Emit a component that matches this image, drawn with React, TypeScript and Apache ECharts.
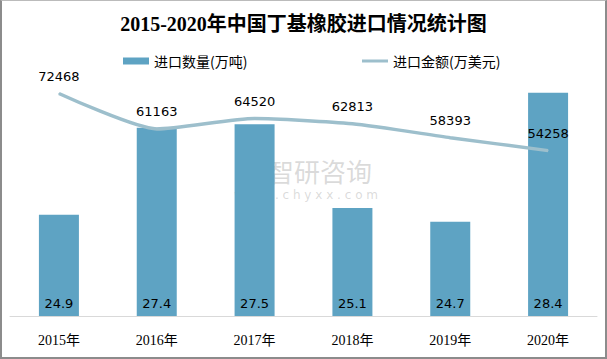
import React, { useEffect, useRef } from "react";
import * as echarts from "echarts";

const years = ["2015年", "2016年", "2017年", "2018年", "2019年", "2020年"];
const volume = [24.9, 27.4, 27.5, 25.1, 24.7, 28.4];
const amount = [72468, 61163, 64520, 62813, 58393, 54258];

export default function App() {
  const ref = useRef<HTMLDivElement>(null);
  useEffect(() => {
    document.body.style.margin = "0";
    const chart = echarts.init(ref.current!, null, { renderer: "svg" });
    const legendText = { fontSize: 14, color: "#000", fontFamily: "Noto Sans CJK SC" };
    chart.setOption({
      animation: false,
      backgroundColor: "#ffffff",
      title: {
        text: "2015-2020年中国丁基橡胶进口情况统计图",
        left: "center",
        top: 8,
        textStyle: {
          fontFamily: "Liberation Serif, Noto Sans CJK SC",
          fontWeight: "bold",
          fontSize: 20,
          color: "#000",
        },
      },
      legend: [
        {
          top: 48,
          left: 116,
          itemWidth: 26,
          itemHeight: 7,
          itemGap: 4,
          textStyle: legendText,
          data: [{ name: "进口数量(万吨)", icon: "rect" }],
        },
        {
          top: 48,
          left: 355,
          itemWidth: 26,
          itemHeight: 3,
          textStyle: legendText,
          data: [{ name: "进口金额(万美元)", icon: "rect", itemStyle: { color: "#9dbfcc" } }],
        },
      ],
      grid: { left: 8, right: 8, top: 36, bottom: 41, containLabel: false },
      xAxis: {
        type: "category",
        data: years,
        axisLine: { lineStyle: { color: "#d9d9d9", width: 1 } },
        axisTick: { show: false },
        axisLabel: {
          margin: 17,
          fontSize: 14,
          color: "#000",
          fontFamily: "Liberation Serif, Noto Sans CJK SC",
        },
      },
      yAxis: [
        { type: "value", min: 22, max: 30, show: false, splitLine: { show: false } },
        { type: "value", min: 1500, max: 90500, show: false, splitLine: { show: false } },
      ],
      graphic: [
        {
          type: "text",
          left: 266,
          top: 156,
          style: {
            text: "智研咨询",
            fontSize: 26,
            fill: "rgba(150,150,150,0.35)",
            fontFamily: "Noto Sans CJK SC",
          },
        },
        {
          type: "text",
          left: 232,
          top: 188,
          style: {
            text: "w w w . c h y x x . c o m",
            fontSize: 12,
            fill: "rgba(150,150,150,0.35)",
            fontFamily: "DejaVu Sans",
          },
        },
        {
          type: "text",
          left: 232,
          top: 158,
          style: {
            text: "Z",
            fontSize: 26,
            fontWeight: "bold",
            fill: "rgba(90,140,190,0.22)",
            fontFamily: "DejaVu Sans",
          },
        },
      ],
      series: [
        {
          name: "进口数量(万吨)",
          type: "bar",
          data: volume,
          barWidth: 40,
          itemStyle: { color: "#5ea3c3" },
          label: {
            show: true,
            position: "insideBottom",
            distance: 6,
            fontSize: 13,
            color: "#000",
            fontFamily: "DejaVu Sans",
          },
        },
        {
          name: "进口金额(万美元)",
          type: "line",
          yAxisIndex: 1,
          data: amount,
          smooth: 0.2,
          symbol: "circle",
          symbolSize: 1,
          showSymbol: true,
          lineStyle: { color: "#9dbfcc", width: 3.5 },
          itemStyle: { color: "#9dbfcc" },
          label: {
            show: true,
            position: "top",
            distance: 10,
            fontSize: 13,
            color: "#000",
            fontFamily: "DejaVu Sans",
          },
          z: 3,
        },
      ],
    });
    return () => chart.dispose();
  }, []);
  return (
    <div
      style={{
        width: 607,
        height: 359,
        boxSizing: "border-box",
        border: "2px solid #8c8c8c",
        borderTop: "1px solid #bbbbbb",
        position: "relative",
      }}
    >
      <div ref={ref} style={{ width: 603, height: 356 }} />
    </div>
  );
}
